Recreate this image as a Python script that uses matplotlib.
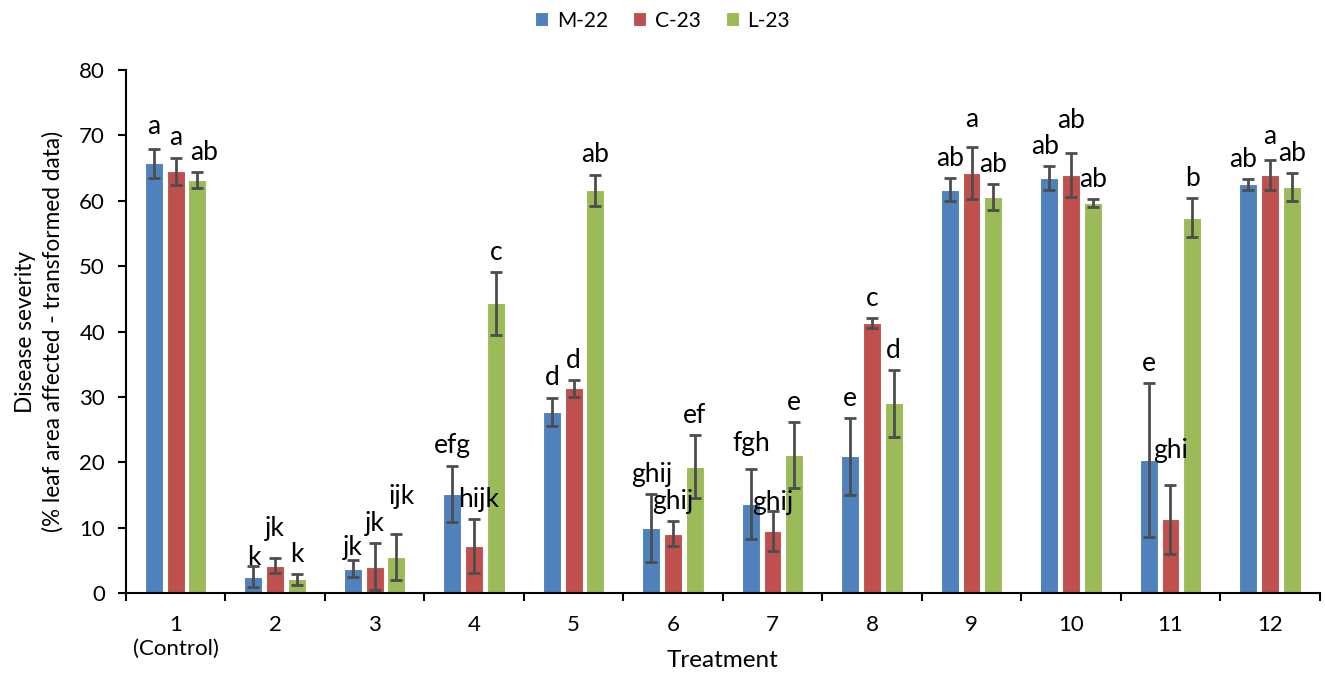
import matplotlib
matplotlib.use('Agg')
import matplotlib.pyplot as plt
import numpy as np

plt.rcParams['font.family'] = ['Lato', 'DejaVu Sans']

treatments = ['1\n(Control)', '2', '3', '4', '5', '6', '7', '8', '9', '10', '11', '12']
series = ['M-22', 'C-23', 'L-23']

m22 = [65.7, 2.5, 3.7, 15.2, 27.7, 9.9, 13.6, 20.9, 61.7, 63.5, 20.3, 62.5]
c23 = [64.5, 4.2, 4.0, 7.2, 31.3, 9.1, 9.5, 41.3, 64.2, 63.9, 11.3, 63.9]
l23 = [63.2, 2.1, 5.5, 44.3, 61.6, 19.3, 21.1, 29.0, 60.6, 59.6, 57.4, 62.1]

m22_err = [2.2, 1.6, 1.3, 4.3, 2.2, 5.2, 5.3, 5.9, 1.8, 1.8, 11.8, 0.8]
c23_err = [2.1, 1.2, 3.6, 4.1, 1.3, 1.9, 3.0, 0.8, 4.0, 3.4, 5.3, 2.3]
l23_err = [1.2, 0.8, 3.5, 4.8, 2.4, 4.8, 5.0, 5.1, 2.0, 0.6, 3.0, 2.2]

m22_let = ['a', 'k', 'jk', 'efg', 'd', 'ghij', 'fgh', 'e', 'ab', 'ab', 'e', 'ab']
c23_let = ['a', 'jk', 'jk', 'hijk', 'd', 'ghij', 'ghij', 'c', 'a', 'ab', 'ghi', 'a']
l23_let = ['ab', 'k', 'ijk', 'c', 'ab', 'ef', 'e', 'd', 'ab', 'ab', 'b', 'ab']

colors = ['#4F81BD', '#C0504D', '#9BBB59']

# small nudges for letters (group, series) -> (dx, dy) in data units
nudge = {(0, 0): (0, 0.4), (0, 2): (0.07, 0), (1, 0): (0, -1.6), (1, 1): (0, 1.4),
         (2, 0): (0, -1.1), (2, 2): (0.05, 2.7), (3, 1): (0.05, 0),
         (6, 0): (0, 0.9), (6, 1): (0, -1.7), (8, 1): (0, 1.3), (9, 1): (0, 1.9),
         (9, 0): (-0.04, 0), (10, 1): (0, 2.2), (11, 0): (-0.05, 0), (11, 1): (0, 0.7)}

fig, ax = plt.subplots(figsize=(13.25, 6.77), dpi=100)
fig.subplots_adjust(left=0.095, right=0.996, bottom=0.124, top=0.8966)

x = np.arange(len(treatments))
pitch = 0.218
width = 0.18
vals = [m22, c23, l23]
errs = [m22_err, c23_err, l23_err]
lets = [m22_let, c23_let, l23_let]

for i in range(3):
    xs = x + (i - 1) * pitch
    ax.bar(xs, vals[i], width, color=colors[i], edgecolor='white', linewidth=0.8,
           label=series[i], zorder=2)
    ax.errorbar(xs, vals[i], yerr=errs[i], fmt='none', ecolor='#4d4d4d',
                elinewidth=2, capsize=4.5, capthick=2, zorder=3)
    for j in range(len(x)):
        dx, dy = nudge.get((j, i), (0, 0))
        ax.text(xs[j] + dx, vals[i][j] + errs[i][j] + 3.0 + dy, lets[i][j],
                ha='center', va='center', fontsize=19, color='black', zorder=4)

ax.set_xlim(-0.5, 11.5)
ax.set_ylim(0, 80)
ax.set_yticks(np.arange(0, 81, 10))
ax.set_xticks(x)
ax.set_xticklabels(treatments, fontsize=16, linespacing=1.25)
ax.set_xticks(np.arange(-0.5, 12, 1), minor=True)
ax.tick_params(axis='x', which='major', length=0, pad=16)
ax.tick_params(axis='x', which='minor', length=6, width=1.5, direction='out')
ax.tick_params(axis='y', length=6, width=1.5, direction='out', labelsize=16, pad=9)
ax.spines['top'].set_visible(False)
ax.spines['right'].set_visible(False)
ax.spines['left'].set_linewidth(1.5)
ax.spines['bottom'].set_linewidth(1.5)

ax.set_xlabel('Treatment', fontsize=17.5)
ax.xaxis.set_label_coords(0.5, -0.108)
ax.set_ylabel('Disease severity\n(% leaf area affected - transformed data)', fontsize=16.3,
              linespacing=1.35)
ax.yaxis.set_label_coords(-0.052, 0.5)

fig.legend(loc='upper center', bbox_to_anchor=(0.5, 1.012), ncol=3, frameon=False,
           fontsize=15, handlelength=0.65, handleheight=0.65, columnspacing=1.2,
           handletextpad=0.4)

plt.savefig('out.png', dpi=100)
